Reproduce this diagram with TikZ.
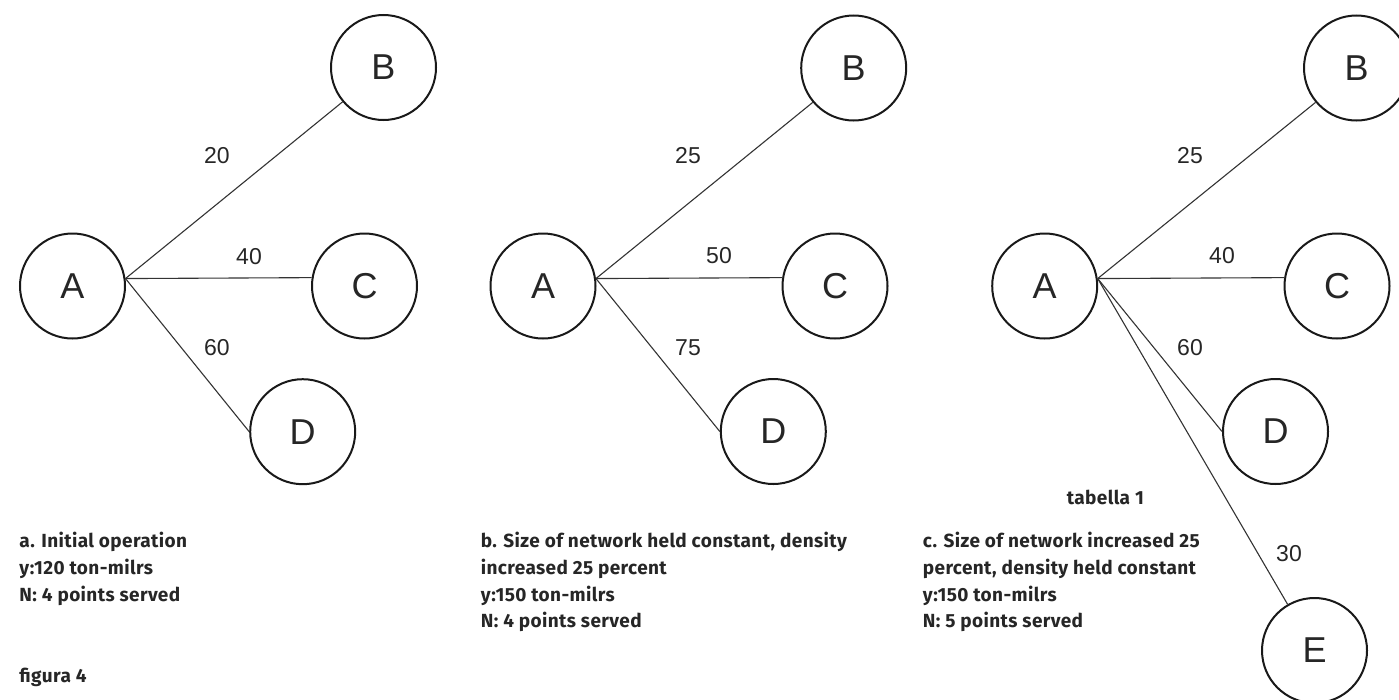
\documentclass[tikz,border=0pt]{standalone}
\usepackage{fontspec}
\setmainfont{Liberation Sans}
\newfontfamily\capfont[LetterSpace=2]{Fira Sans}
\begin{document}
\begin{tikzpicture}[x=1pt,y=-1pt,
  city/.style={circle, draw=black!90, line width=2pt, minimum size=105pt, inner sep=0pt, font=\fontsize{36}{36}\selectfont, text=black!85},
  link/.style={draw=black!80, line width=1.1pt},
  wlabel/.style={font=\fontsize{23}{23}\selectfont, text=black!85, inner sep=0pt},
  caption/.style={anchor=base west, inner sep=0pt, font=\capfont\bfseries\fontsize{19}{26}\selectfont, text=black!85}]
\useasboundingbox (0,0) rectangle (1399,699);

% ---------- panel a ----------
\node[city] (aA) at (72.5,286) {A};
\node[city] (aB) at (383.5,67.5) {B};
\node[city] (aC) at (364.5,286) {C};
\node[city] (aD) at (302.7,431.7) {D};
\draw[link] (aA.8) -- (aB.220);
\draw[link] (aA.8) -- (aC.171);
\draw[link] (aA.8) -- (aD.west);
\node[wlabel] (aw1) at (217,156) {20};
\node[wlabel] (aw2) at (249,257) {40};
\node[wlabel] (aw3) at (217,348) {60};

% ---------- panel b ----------
\node[city] (bA) at (543,286) {A};
\node[city] (bB) at (853.7,68) {B};
\node[city] (bC) at (835,286) {C};
\node[city] (bD) at (773.3,431.5) {D};
\draw[link] (bA.8) -- (bB.220);
\draw[link] (bA.8) -- (bC.171);
\draw[link] (bA.8) -- (bD.west);
\node[wlabel] (bw1) at (688,156) {25};
\node[wlabel] (bw2) at (719,256) {50};
\node[wlabel] (bw3) at (688,348) {75};

% ---------- panel c ----------
\node[city] (cA) at (1044.7,286) {A};
\node[city] (cB) at (1356.5,68) {B};
\node[city] (cC) at (1337,286) {C};
\node[city] (cD) at (1275.5,431.5) {D};
\node[city] (cE) at (1314.5,650.5) {E};
\draw[link] (cA.8) -- (cB.220);
\draw[link] (cA.8) -- (cC.171);
\draw[link] (cA.8) -- (cD.west);
\draw[link] (cA.8) -- (cE);
\node[wlabel] (cw1) at (1190,156) {25};
\node[wlabel] (cw2) at (1222,256) {40};
\node[wlabel] (cw3) at (1190,348) {60};
\node[wlabel] (cw4) at (1289,554) {30};

% ---------- captions ----------
\node[caption] (ca1) at (19.3,547) {a. Initial operation};
\node[caption] (ca2) at (19.3,574) {y:120 ton-milrs};
\node[caption] (ca3) at (19.3,601) {N: 4 points served};
\node[caption] (fig) at (19.3,682) {figura 4};

\node[caption] (cb1) at (480.7,547) {b. Size of network held constant, density};
\node[caption] (cb2) at (480.7,574) {increased 25 percent};
\node[caption] (cb3) at (480.7,601) {y:150 ton-milrs};
\node[caption] (cb4) at (480.7,627) {N: 4 points served};

\node[caption] (tab) at (1066.7,504) {tabella 1};
\node[caption] (cc1) at (922.7,547) {c. Size of network increased 25};
\node[caption] (cc2) at (922.7,574) {percent, density held constant};
\node[caption] (cc3) at (922.7,601) {y:150 ton-milrs};
\node[caption] (cc4) at (922.7,627) {N: 5 points served};
\end{tikzpicture}
\end{document}
